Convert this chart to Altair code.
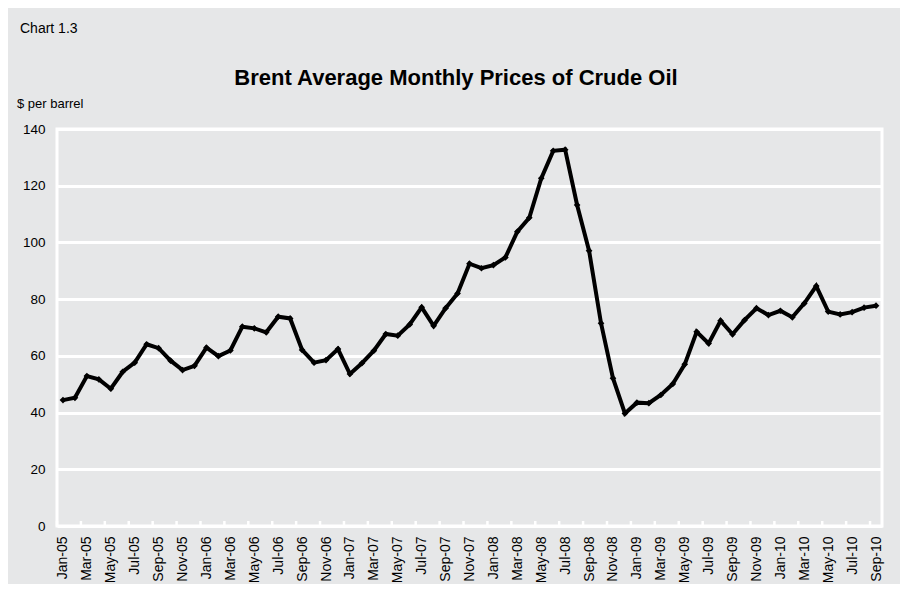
import altair as alt
import pandas as pd

months = [
    "Jan-05", "Feb-05", "Mar-05", "Apr-05", "May-05", "Jun-05", "Jul-05", "Aug-05", "Sep-05", "Oct-05", "Nov-05", "Dec-05",
    "Jan-06", "Feb-06", "Mar-06", "Apr-06", "May-06", "Jun-06", "Jul-06", "Aug-06", "Sep-06", "Oct-06", "Nov-06", "Dec-06",
    "Jan-07", "Feb-07", "Mar-07", "Apr-07", "May-07", "Jun-07", "Jul-07", "Aug-07", "Sep-07", "Oct-07", "Nov-07", "Dec-07",
    "Jan-08", "Feb-08", "Mar-08", "Apr-08", "May-08", "Jun-08", "Jul-08", "Aug-08", "Sep-08", "Oct-08", "Nov-08", "Dec-08",
    "Jan-09", "Feb-09", "Mar-09", "Apr-09", "May-09", "Jun-09", "Jul-09", "Aug-09", "Sep-09", "Oct-09", "Nov-09", "Dec-09",
    "Jan-10", "Feb-10", "Mar-10", "Apr-10", "May-10", "Jun-10", "Jul-10", "Aug-10", "Sep-10",
]

prices = [
    44.4, 45.2, 52.9, 51.7, 48.4, 54.4, 57.6, 64.1, 62.7, 58.3, 55.0, 56.5,
    62.9, 59.9, 61.9, 70.3, 69.7, 68.3, 73.8, 73.2, 62.1, 57.6, 58.5, 62.4,
    53.6, 57.4, 61.8, 67.7, 67.1, 71.1, 77.1, 70.6, 76.8, 82.0, 92.5, 90.9,
    92.0, 94.7, 103.8, 108.7, 122.6, 132.3, 132.7, 113.2, 97.1, 71.5, 52.1, 39.7,
    43.5, 43.3, 46.2, 50.1, 57.0, 68.5, 64.4, 72.4, 67.6, 72.6, 76.8, 74.4,
    75.9, 73.6, 78.5, 84.6, 75.6, 74.6, 75.4, 77.0, 77.7,
]

y_ticks = [0, 20, 40, 60, 80, 100, 120, 140]

chart_label = "Chart 1.3"
title_text = "Brent Average Monthly Prices of Crude Oil"
unit_text = "$ per barrel"

df = pd.DataFrame({"i": list(range(len(months))), "month": months, "price": prices})

W, H = 825, 397
BG = "#e6e7e8"
FONT = "Liberation Sans"

label_array = "[" + ",".join("'" + m + "'" for m in months) + "]"

x_scale = alt.Scale(domain=[-0.5, len(months) - 0.5], nice=False, zero=False)
y_scale = alt.Scale(domain=[0, 140], nice=False)

x_axis = alt.Axis(
    values=list(range(0, len(months), 2)),
    labelExpr=label_array + "[datum.value]",
    labelAngle=270,
    labelFontSize=14,
    labelColor="#000000",
    labelFont=FONT,
    labelPadding=10,
    ticks=False,
    domain=False,
    grid=False,
    title=None,
    labelOverlap=False,
    labelFlush=False,
    labelBound=False,
)

y_axis = alt.Axis(
    values=y_ticks,
    labelFontSize=13.5,
    labelColor="#000000",
    labelFont=FONT,
    labelPadding=12,
    ticks=False,
    domain=False,
    grid=True,
    gridColor="#ffffff",
    gridWidth=3,
    gridOpacity=1,
    title=None,
    labelOverlap=False,
)

base = alt.Chart(df)

X = alt.X("i:Q", scale=x_scale, axis=x_axis)
Y = alt.Y("price:Q", scale=y_scale, axis=y_axis)

line = base.mark_line(color="#000000", strokeWidth=4).encode(x=X, y=Y)

points = base.mark_point(shape="diamond", filled=True, color="#000000", size=45, opacity=1).encode(x=X, y=Y)

ticks = base.transform_filter("datum.i % 2 == 0").transform_calculate(
    b="datum.i - 0.5"
).mark_rule(color="#ffffff", strokeWidth=2.5).encode(
    x=alt.X("b:Q", scale=x_scale, axis=x_axis),
    y=alt.value(H),
    y2=alt.value(H - 5),
)

chart_lbl = alt.Chart(alt.Data(values=[{"t": chart_label}])).mark_text(
    align="left", baseline="middle", fontSize=14, font=FONT, color="#000000"
).encode(text="t:N", x=alt.value(-37), y=alt.value(-100))

title_lbl = alt.Chart(alt.Data(values=[{"t": title_text}])).mark_text(
    align="center", baseline="middle", fontSize=22, fontWeight="bold", font=FONT, color="#000000"
).encode(text="t:N", x=alt.value(399), y=alt.value(-51))

unit_lbl = alt.Chart(alt.Data(values=[{"t": unit_text}])).mark_text(
    align="left", baseline="middle", fontSize=13, font=FONT, color="#000000"
).encode(text="t:N", x=alt.value(-40), y=alt.value(-25))

chart = alt.layer(ticks, line, points, chart_lbl, title_lbl, unit_lbl).properties(
    width=W,
    height=H,
    background=BG,
    autosize=alt.AutoSizeParams(type="none"),
    padding={"left": 49, "top": 121, "right": 18, "bottom": 58},
).configure_view(
    fill=BG,
    stroke="#ffffff",
    strokeWidth=3,
)

chart.save("out.html", embed_options={"renderer": "svg", "actions": False})
